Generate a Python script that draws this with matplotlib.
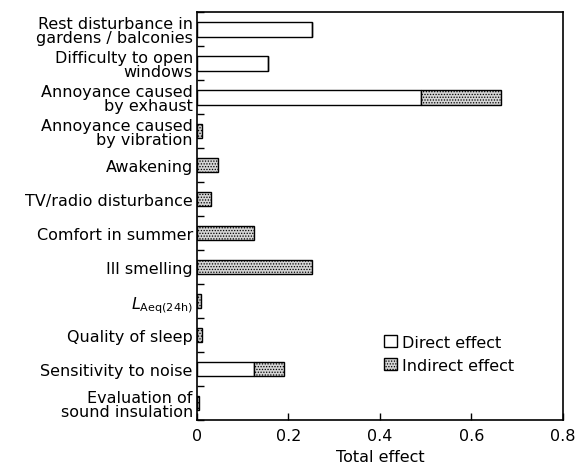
import matplotlib

matplotlib.use("Agg")
import matplotlib.pyplot as plt
import numpy as np

# categories top -> bottom
categories = [
    "Rest disturbance in\ngardens / balconies",
    "Difficulty to open\nwindows",
    "Annoyance caused\nby exhaust",
    "Annoyance caused\nby vibration",
    "Awakening",
    "TV/radio disturbance",
    "Comfort in summer",
    "Ill smelling",
    r"$L_{\mathrm{Aeq(24h)}}$",
    "Quality of sleep",
    "Sensitivity to noise",
    "Evaluation of\nsound insulation",
]
direct_effect = [0.251, 0.155, 0.49, 0.0, 0.0, 0.0, 0.0, 0.0, 0.0, 0.0, 0.125, 0.0]
indirect_effect = [0.0, 0.0, 0.175, 0.012, 0.045, 0.03, 0.125, 0.252, 0.008, 0.01, 0.065, 0.004]
x_ticks = [0, 0.2, 0.4, 0.6, 0.8]
x_tick_labels = ["0", "0.2", "0.4", "0.6", "0.8"]

plt.rcParams["font.family"] = ["DejaVu Sans"]
plt.rcParams["hatch.color"] = "#555555"
plt.rcParams["hatch.linewidth"] = 0.6

fig = plt.figure(figsize=(5.75, 4.77), dpi=100)
ax = fig.add_axes([0.3426, 0.1174, 0.6364, 0.8543])

y = np.arange(len(categories))
h = 0.42
ax.barh(y, direct_effect, height=h, color="white", edgecolor="black", linewidth=1.0,
        label="Direct effect")
ax.barh(y, indirect_effect, height=h, left=direct_effect, color="#d4d4d4",
        edgecolor="black", linewidth=1.0, hatch="......", label="Indirect effect")

ax.set_ylim(len(categories) - 0.5, -0.5)
ax.set_xlim(0, 0.8)
ax.set_yticks(y)
ax.set_yticklabels(categories, fontsize=11.5, linespacing=0.92)
ax.set_yticks(np.arange(-0.5, len(categories), 1.0), minor=True)
ax.tick_params(axis="y", which="major", length=0, pad=3)
ax.tick_params(axis="y", which="minor", direction="in", length=5, width=1)
ax.set_xticks(x_ticks)
ax.set_xticklabels(x_tick_labels, fontsize=11.5)
ax.tick_params(axis="x", direction="in", length=5, width=1, pad=6)
ax.set_xlabel("Total effect", fontsize=11.5, labelpad=4)
for s in ax.spines.values():
    s.set_linewidth(1.2)

ax.legend(loc="center left", bbox_to_anchor=(0.49, 0.163), frameon=False, fontsize=11.5,
          handlelength=0.8, handleheight=0.8, handletextpad=0.3, labelspacing=0.5,
          borderpad=0)

fig.savefig("out.png", dpi=100)
